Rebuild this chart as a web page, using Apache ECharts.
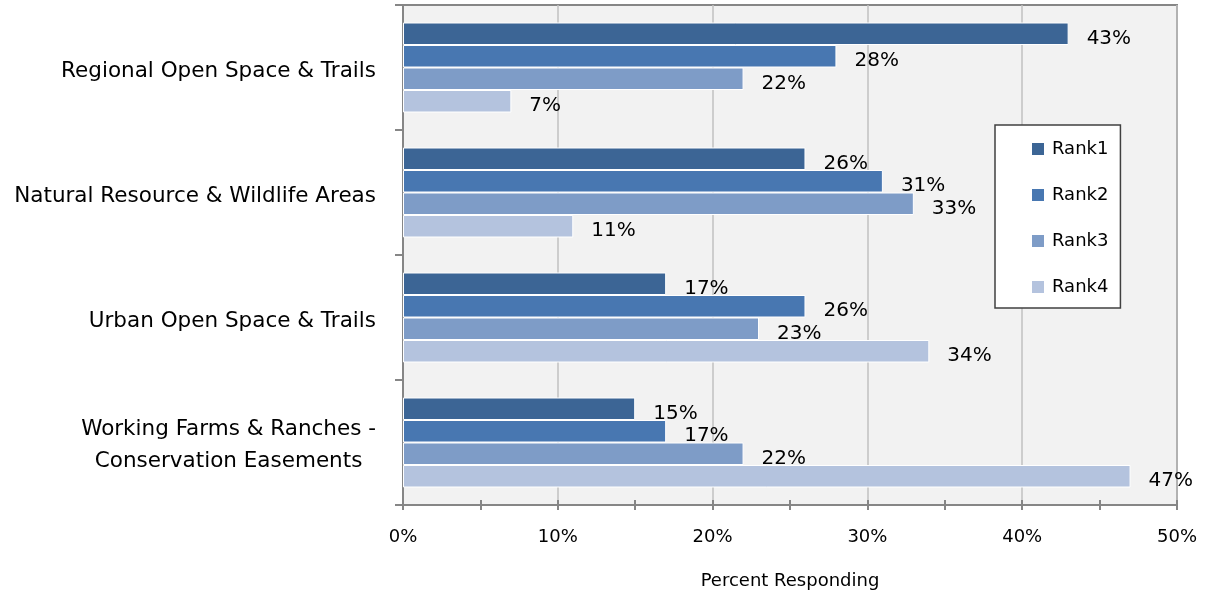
<!DOCTYPE html>
<html>
<head>
<meta charset="utf-8">
<script src="https://cdn.jsdelivr.net/npm/echarts@6/dist/echarts.min.js"></script>
<style>
  html, body { margin: 0; padding: 0; background: #ffffff; }
  #chart { width: 1207px; height: 593px; }
</style>
</head>
<body>
<div id="chart"></div>
<script>
// Land-type priorities: share of respondents giving each rank
const categories = [
  'Regional Open Space & Trails',
  'Natural Resource & Wildlife Areas',
  'Urban Open Space & Trails',
  'Working Farms & Ranches -\nConservation Easements'
];
const seriesNames = ['Rank1', 'Rank2', 'Rank3', 'Rank4'];
const rank1 = [43, 26, 17, 15];
const rank2 = [28, 31, 26, 17];
const rank3 = [22, 33, 23, 22];
const rank4 = [7, 11, 34, 47];
const xTicks = [0, 10, 20, 30, 40, 50];

const palette = ['#3c6595', '#4877b1', '#7e9cc7', '#b4c3de'];
const FONT = '"DejaVu Sans", sans-serif';
const AXIS_GRAY = '#868686';

const rankValues = [rank1, rank2, rank3, rank4];

const chart = echarts.init(document.getElementById('chart'), null, { renderer: 'canvas' });

const series = seriesNames.map((name, i) => ({
  name: name,
  type: 'bar',
  xAxisIndex: 0,
  yAxisIndex: 0,
  data: rankValues[i],
  barGap: '0%',
  barCategoryGap: '28%',
  itemStyle: { color: palette[i], borderColor: '#ffffff', borderWidth: 1 },
  label: {
    show: true,
    position: 'right',
    distance: 18,
    offset: [0, 5],
    color: '#000000',
    fontFamily: FONT,
    fontSize: 20,
    formatter: p => Math.round(p.value) + '%'
  },
  emphasis: { disabled: true },
  animation: false
}));

// category labels: lines centred on each other, nudged down a little
function categoryLabel(v) {
  const lines = v.split('\n');
  const spacer = lines.length > 1 ? '{g2| }' : '{g1| }';
  return spacer + '\n' + lines.map(s => '{c|' + s + '}').join('\n');
}

chart.setOption({
  animation: false,
  textStyle: { fontFamily: FONT },
  grid: {
    left: 403, right: 30, top: 5, bottom: 88,
    outerBoundsMode: 'none',
    containLabel: false,
    show: true,
    backgroundColor: '#f2f2f2',
    borderColor: AXIS_GRAY,
    borderWidth: 2
  },
  legend: {
    orient: 'vertical',
    left: 995,
    top: 125,
    data: seriesNames,
    icon: 'rect',
    itemWidth: 14,
    itemHeight: 14,
    itemGap: 28,
    padding: [15, 12, 12, 35],
    backgroundColor: '#ffffff',
    borderColor: '#404040',
    borderWidth: 1.5,
    textStyle: { fontFamily: FONT, fontSize: 18, color: '#000000', padding: [0, 0, 0, 2] },
    selectedMode: false
  },
  xAxis: [
    {
      type: 'value',
      min: xTicks[0],
      max: xTicks[xTicks.length - 1],
      interval: 10,
      axisLine: { show: true, lineStyle: { color: AXIS_GRAY, width: 2 } },
      axisTick: { show: true, length: 5, lineStyle: { color: AXIS_GRAY, width: 2 } },
      minorTick: { show: true, splitNumber: 2, length: 5, lineStyle: { color: AXIS_GRAY, width: 2 } },
      splitLine: { show: true, lineStyle: { color: '#c0c0c0', width: 1.5 } },
      axisLabel: {
        margin: 23,
        color: '#000000',
        fontFamily: FONT,
        fontSize: 18,
        formatter: '{value}%'
      },
      name: 'Percent Responding',
      nameLocation: 'middle',
      nameGap: 67,
      nameTextStyle: { color: '#000000', fontFamily: FONT, fontSize: 18 }
    },
    {
      // inward half of the crossing tick marks
      type: 'value',
      position: 'bottom',
      min: xTicks[0],
      max: xTicks[xTicks.length - 1],
      interval: 10,
      axisLine: { show: false },
      axisTick: { show: true, inside: true, length: 5, lineStyle: { color: AXIS_GRAY, width: 2 } },
      minorTick: { show: true, splitNumber: 2, length: 5, lineStyle: { color: AXIS_GRAY, width: 2 } },
      splitLine: { show: false },
      axisLabel: { show: false }
    }
  ],
  yAxis: {
    type: 'category',
    inverse: true,
    data: categories,
    axisLine: { show: true, lineStyle: { color: AXIS_GRAY, width: 2 } },
    axisTick: { show: true, length: 8, lineStyle: { color: AXIS_GRAY, width: 2 } },
    splitLine: { show: false },
    axisLabel: {
      margin: 27,
      color: '#000000',
      formatter: categoryLabel,
      rich: {
        g1: { fontSize: 4, lineHeight: 8 },
        g2: { fontSize: 4, lineHeight: 6 },
        c: { align: 'center', fontFamily: FONT, fontSize: 21.5, lineHeight: 32, color: '#000000' }
      }
    }
  },
  series: series
});
</script>
</body>
</html>
